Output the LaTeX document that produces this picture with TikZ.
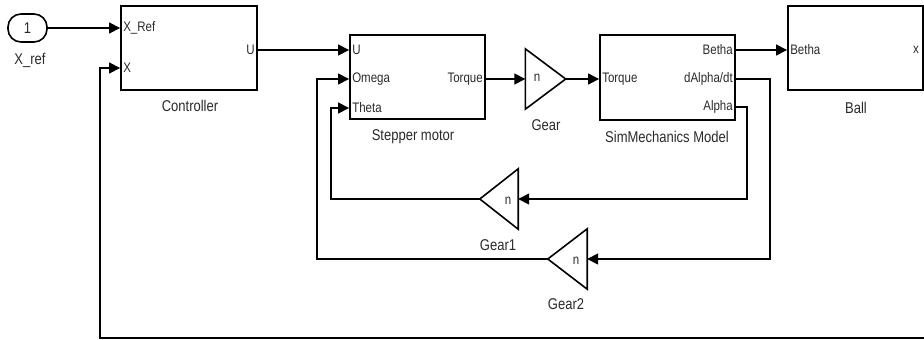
\documentclass[tikz,border=0pt]{standalone}
\usepackage{fontspec}
\usepackage{graphicx}
\setmainfont{Liberation Sans}
\usetikzlibrary{arrows.meta,calc}
\definecolor{txtgray}{HTML}{2A2A2A}
\newcommand{\tx}[1]{\scalebox{1}[1.2]{#1}}
\begin{document}
\begin{tikzpicture}[x=1pt,y=-1pt,
  txt/.style={text=txtgray, inner sep=0pt},
  portl/.style={txt, font=\fontsize{11.5}{12}\selectfont, anchor=west, xshift=3pt},
  portr/.style={txt, font=\fontsize{11.5}{12}\selectfont, anchor=east, xshift=-3pt},
  lbl/.style={txt, font=\fontsize{13}{14}\selectfont},
  blk/.style={draw, line width=1.9pt, inner sep=0pt},
  wire/.style={line width=1.6pt},
  arr/.style={wire, -{Triangle[length=11pt,width=11pt]}},
  gainbox/.style={inner sep=0pt, minimum width=40pt, minimum height=60pt}]
\useasboundingbox (0,0) rectangle (924,340);

% blocks
\node[blk, rounded corners=13pt, minimum width=39pt, minimum height=28pt,
      line width=1.6pt, font=\fontsize{13}{14}\selectfont, text=txtgray] (inp) at (27.5,28) {\tx{1}};
\node[blk, minimum width=136pt, minimum height=84pt] (ctrl) at (189,48) {};
\node[blk, minimum width=135pt, minimum height=84pt] (step) at (417.5,77) {};
\node[gainbox] (gear) at (545.5,79) {};
\node[blk, minimum width=135pt, minimum height=85pt] (sm) at (667.5,77.5) {};
\node[blk, minimum width=135pt, minimum height=84pt] (ball) at (855.5,48) {};
\node[gainbox, minimum width=38pt] (g1) at (499,199) {};
\node[gainbox, minimum width=39pt] (g2) at (567.5,259) {};

% gain triangles
\draw[wire] (gear.north west) -- (gear.east) -- (gear.south west) -- cycle;
\draw[wire] (g1.north east) -- (g1.west) -- (g1.south east) -- cycle;
\draw[wire] (g2.north east) -- (g2.west) -- (g2.south east) -- cycle;

% ports
\coordinate (cXref) at ($(ctrl.west)+(0,-20)$);
\coordinate (cX) at ($(ctrl.west)+(0,20)$);
\coordinate (cU) at ($(ctrl.east)+(0,2)$);
\coordinate (sU) at ($(step.west)+(0,-27)$);
\coordinate (sOmega) at ($(step.west)+(0,2)$);
\coordinate (sTheta) at ($(step.west)+(0,31)$);
\coordinate (sTorque) at ($(step.east)+(0,2)$);
\coordinate (mTorque) at ($(sm.west)+(0,1.5)$);
\coordinate (mBetha) at ($(sm.east)+(0,-27.5)$);
\coordinate (mdAlpha) at ($(sm.east)+(0,1.5)$);
\coordinate (mAlpha) at ($(sm.east)+(0,29.5)$);
\coordinate (bBetha) at ($(ball.west)+(0,2)$);
\coordinate (bX) at ($(ball.east)+(0,2)$);
\coordinate (fbR) at (924,338);

% port labels
\node[portl] at (cXref) {\tx{X\_Ref}};
\node[portl] at (cX) {\tx{X}};
\node[portr] at (cU) {\tx{U}};
\node[portl] at (sU) {\tx{U}};
\node[portl] at (sOmega) {\tx{Omega}};
\node[portl] at (sTheta) {\tx{Theta}};
\node[portr] at (sTorque) {\tx{Torque}};
\node[portl] at (mTorque) {\tx{Torque}};
\node[portr] at (mBetha) {\tx{Betha}};
\node[portr] at (mdAlpha) {\tx{dAlpha/dt}};
\node[portr] at (mAlpha) {\tx{Alpha}};
\node[portl] at (bBetha) {\tx{Betha}};
\node[portr, xshift=-2pt] at (bX) {\tx{x}};
\node[txt, font=\fontsize{11.5}{12}\selectfont] at (537,78) {\tx{n}};
\node[txt, font=\fontsize{11.5}{12}\selectfont] at (508,201) {\tx{n}};
\node[txt, font=\fontsize{11.5}{12}\selectfont] at (576,261) {\tx{n}};

% block labels
\node[lbl] at (30,60) {\tx{X\_ref}};
\node[lbl] at (190,106) {\tx{Controller}};
\node[lbl] at (413,137) {\tx{Stepper motor}};
\node[lbl] at (546,125) {\tx{Gear}};
\node[lbl] at (667,137) {\tx{SimMechanics Model}};
\node[lbl] at (856,108) {\tx{Ball}};
\node[lbl] at (498,245) {\tx{Gear1}};
\node[lbl] at (566,304) {\tx{Gear2}};

% wires
\draw[arr] (inp.east) -- (cXref);
\draw[arr] (fbR) -| ($(cX)+(-20,0)$) -- (cX);
\draw[arr] (cU) -- (sU);
\draw[arr] (sTorque) -- (gear.west);
\draw[arr] (gear.east) -- (mTorque);
\draw[arr] (mBetha) -- (bBetha);
\draw[arr] (mdAlpha) -- ++(34,0) |- (g2.east);
\draw[arr] (mAlpha) -- ++(11,0) |- (g1.east);
\draw[arr] (g1.west) -- ++(-149,0) |- (sTheta);
\draw[arr] (g2.west) -- ++(-231,0) |- (sOmega);
\end{tikzpicture}
\end{document}
